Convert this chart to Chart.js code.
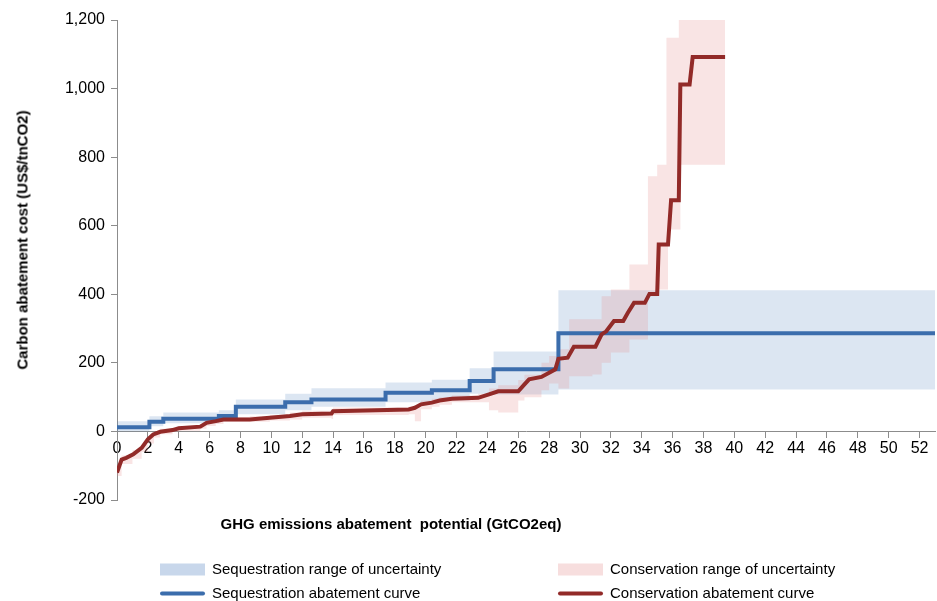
<!DOCTYPE html>
<html>
<head>
<meta charset="utf-8">
<script src="https://cdn.jsdelivr.net/npm/chart.js@4/dist/chart.umd.min.js"></script>
<style>
  body { margin: 0; background: #fff; font-family: "Liberation Sans", Arial, sans-serif; color: #000; }
  #wrap { position: relative; width: 937px; height: 601px; }
  #chart { position: absolute; left: 0; top: 0; }
  .ytitle { position: absolute; left: 22px; top: 240px; transform: translate(-50%, -50%) rotate(-90deg); font-weight: bold; font-size: 15px; white-space: nowrap; }
  .xtitle { position: absolute; left: 391px; top: 523px; transform: translate(-50%, -50%); font-weight: bold; font-size: 15px; white-space: pre; }
  .leg { position: absolute; font-size: 15px; white-space: nowrap; transform: translateY(-50%); }
  .leg i { position: absolute; left: -52px; }
  .box { top: 4px; width: 45px; height: 12px; }
  .ln { top: 8px; width: 45px; height: 4px; border-radius: 2px; }
</style>
</head>
<body>
<div id="wrap">
  <canvas id="chart" width="937" height="601"></canvas>
  <div class="ytitle">Carbon abatement cost (US$/tnCO2)</div>
  <div class="xtitle">GHG emissions abatement  potential (GtCO2eq)</div>
  <div class="leg" style="left:212px;top:568px"><i class="box" style="background:#c8d7eb"></i>Sequestration range of uncertainty</div>
  <div class="leg" style="left:610px;top:568px"><i class="box" style="background:#f7dede"></i>Conservation range of uncertainty</div>
  <div class="leg" style="left:212px;top:592px"><i class="ln" style="background:#3b6dac"></i>Sequestration abatement curve</div>
  <div class="leg" style="left:610px;top:592px"><i class="ln" style="background:#922a28"></i>Conservation abatement curve</div>
</div>
<script>
// sequestration curve: each value holds from its x until the next x
const seqX = [0, 2.1, 3.0, 6.6, 7.7, 10.9, 12.6, 17.4, 20.4, 22.85, 24.4, 28.6, 53]
const seqY = [12, 28, 37, 45, 72, 85, 93, 113, 120, 147, 181, 286, 286]
const seqLow = [0, 15, 24, 32, 50, 62, 72, 85, 90, 110, 108, 122, 122]
const seqHigh = [30, 44, 55, 62, 93, 110, 126, 143, 151, 184, 233, 412, 412]

// conservation curve (corner points)
const consX = [0, 0.3, 0.6, 1.05, 1.6, 2.0, 2.35, 2.8, 3.6, 4.0, 5.4, 5.8, 6.4, 6.9, 8.6, 9.9,
  11.2, 12.0, 13.9, 14.0, 18.9, 19.3, 19.7, 20.4, 20.9, 21.7, 23.4, 24.1, 24.7, 26.0, 26.4,
  26.7, 27.5, 28.0, 28.4, 28.6, 29.2, 29.6, 31.0, 31.4, 31.7, 32.2, 32.8, 33.1, 33.5, 34.2,
  34.5, 35.0, 35.1, 35.7, 35.9, 36.4, 36.5, 37.1, 37.3, 39.4]
const consY = [-120, -82, -77, -67, -48, -23, -9, -1, 4, 9, 14, 25, 30, 35, 35, 40,
  45, 50, 52, 59, 64, 69, 79, 84, 90, 95, 98, 108, 117, 117, 137,
  152, 159, 171, 181, 212, 215, 247, 247, 283, 292, 322, 322, 346, 375, 375,
  401, 401, 545, 545, 674, 674, 1012, 1012, 1092, 1092]

// conservation range of uncertainty: each value holds until the next x
const consBandX = [0, 0.3, 1.0, 1.6, 2.0, 2.4, 2.8, 3.6, 4.0, 5.4, 5.8, 6.4, 6.9, 8.6, 9.9, 11.2,
  12.0, 13.9, 14.0, 18.9, 19.3, 19.7, 20.4, 20.9, 21.7, 23.4, 24.1, 24.7, 26.0, 26.4, 27.5,
  28.0, 28.6, 29.3, 30.8, 31.4, 32.0, 33.2, 34.4, 35.0, 35.6, 35.7, 36.4, 36.5, 39.4]
const consLow = [-130, -95, -80, -60, -35, -18, -8, -2, 2, 8, 16, 22, 28, 28, 32, 35,
  40, 36, 48, 50, 30, 65, 72, 78, 85, 85, 62, 55, 90, 100, 120,
  140, 125, 161, 166, 200, 230, 268, 394, 414, 414, 589, 589, 778, 778]
const consHigh = [-100, -70, -55, -38, -15, 0, 8, 12, 16, 22, 32, 38, 42, 44, 48, 55,
  60, 62, 70, 72, 75, 90, 95, 100, 105, 110, 125, 135, 150, 165, 200,
  220, 240, 327, 327, 394, 414, 487, 744, 778, 1148, 1148, 1200, 1200, 1200]

const xTickStep = 2
const yTicks = [-200, 0, 200, 400, 600, 800, 1000, 1200]

const COLORS = {
  seq: "#3b6dac",
  cons: "#922a28",
  seqBand: "rgba(79, 129, 189, 0.2)",
  consBand: "rgba(226, 130, 130, 0.22)",
  axis: "#8c8c8c"
}

const pts = (xs, ys) => xs.map((x, i) => ({ x, y: ys[i] }))

const bandEdge = (data, color, fill) => ({
  data,
  borderWidth: 0,
  borderColor: "transparent",
  backgroundColor: color,
  pointRadius: 0,
  stepped: "before",
  fill
})

new Chart(document.getElementById("chart"), {
  type: "line",
  data: {
    datasets: [
      { data: pts(consX, consY), borderColor: COLORS.cons, borderWidth: 4, pointRadius: 0, tension: 0, fill: false },
      { data: pts(seqX, seqY), borderColor: COLORS.seq, borderWidth: 4, pointRadius: 0, stepped: "before", fill: false },
      bandEdge(pts(consBandX, consLow), COLORS.consBand, false),
      bandEdge(pts(consBandX, consHigh), COLORS.consBand, "-1"),
      bandEdge(pts(seqX, seqLow), COLORS.seqBand, false),
      bandEdge(pts(seqX, seqHigh), COLORS.seqBand, "-1")
    ]
  },
  options: {
    responsive: false,
    animation: false,
    layout: { padding: { top: 20, right: 2, bottom: 101, left: 0 } },
    plugins: { legend: { display: false }, tooltip: { enabled: false } },
    scales: {
      x: {
        type: "linear",
        min: 0,
        max: 53,
        position: { y: 0 },
        grid: { drawOnChartArea: false, tickLength: 6, color: COLORS.axis },
        border: { color: COLORS.axis, width: 1 },
        ticks: { stepSize: xTickStep, includeBounds: false, maxRotation: 0, autoSkip: false, padding: 2,
          color: "#000", font: { family: "Liberation Sans", size: 16 } }
      },
      y: {
        min: yTicks[0],
        max: yTicks[yTicks.length - 1],
        afterBuildTicks: s => { s.ticks = yTicks.map(v => ({ value: v })) },
        afterFit: s => { s.width = 117 },
        grid: { drawOnChartArea: false, tickLength: 6, color: COLORS.axis },
        border: { color: COLORS.axis, width: 1 },
        ticks: { padding: 6, color: "#000", font: { family: "Liberation Sans", size: 16 } }
      }
    }
  }
})
</script>
</body>
</html>
